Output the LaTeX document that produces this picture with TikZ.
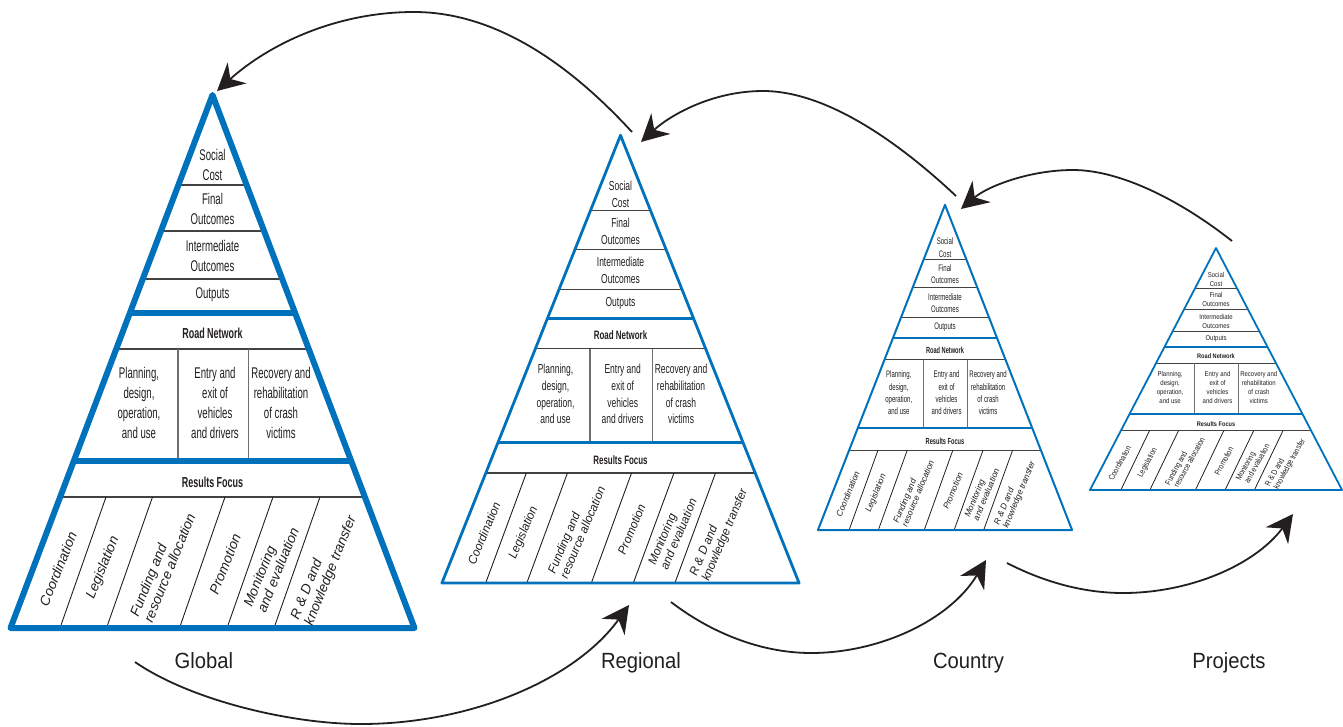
\documentclass[tikz,border=0pt]{standalone}
\usepackage{fontspec}
\setmainfont{Liberation Sans}
\newfontfamily\condfont[FakeStretch=0.62]{Liberation Sans}
\newfontfamily\labfont[FakeStretch=0.92]{Liberation Sans}
\usetikzlibrary{arrows.meta}
\definecolor{pblue}{RGB}{0,114,188}
\definecolor{ink}{RGB}{35,31,32}
\tikzset{
  boxtxt/.style={text=ink, align=center, inner sep=0pt, font=\condfont\fontsize{15.5}{20}\selectfont},
  headtxt/.style={text=ink, inner sep=0pt, font=\condfont\bfseries\fontsize{14.5}{18}\selectfont},
  slanttxt/.style={text=ink, align=left, inner sep=0pt, rotate=68, font=\itshape\fontsize{13.8}{15}\selectfont},
  thinline/.style={draw=ink!85, line width=1.1pt},
  divline/.style={draw=ink!65, line width=1.3pt},
  slantline/.style={draw=ink, line width=0.9pt},
  levellabel/.style={text=ink, font=\labfont\fontsize{22}{26}\selectfont, anchor=base, inner sep=0pt},
  flow/.style={draw=ink, line width=1.8pt, -{Stealth[length=27pt,width=28pt,inset=9pt]}},
  pyredge/.style={draw=pblue, line width=6pt, line join=round},
  pyrband/.style={draw=pblue, line width=6pt},
  pics/pyr/.style={code={
    \draw[thinline] (-34.1,-443) -- (34.1,-443);
    \draw[thinline] (-51.5,-397) -- (51.5,-397);
    \draw[thinline] (-69.7,-349) -- (69.7,-349);
    \draw[thinline] (-96.3,-279) -- (96.3,-279);
    \draw[thinline] (-152.4,-131) -- (152.4,-131);
    \draw[divline] (-34.5,-279) -- (-34.5,-167);
    \draw[divline] (36,-279) -- (36,-167);
    \foreach \b/\t in {-152.5/-106.5, -106/-60, -33/12.5, 14.5/60.5, 61.5/107.5}
      \draw[slantline] (\b,0) -- (\t,-131);
    \draw[pyrband] (-82.6,-315) -- (82.6,-315);
    \draw[pyrband] (-138.7,-167) -- (138.7,-167);
    \draw[pyredge] (-202,0) -- (0,-533) -- (202,0) -- cycle;
    \node[boxtxt] (social) at (0,-463) {Social\\Cost};
    \node[boxtxt] (final) at (0,-419) {Final\\Outcomes};
    \node[boxtxt] (inter) at (0,-372) {Intermediate\\Outcomes};
    \node[boxtxt] (outputs) at (0,-333) {Outputs};
    \node[headtxt] (road) at (0,-295) {Road Network};
    \node[boxtxt] (plan) at (-73.5,-225) {Planning,\\design,\\operation,\\and use};
    \node[boxtxt] (entry) at (2.5,-225) {Entry and\\exit of\\vehicles\\and drivers};
    \node[boxtxt] (recov) at (68.5,-225) {Recovery and\\rehabilitation\\of crash\\victims};
    \node[headtxt] (results) at (0,-146) {Results Focus};
    \node[slanttxt] (coord) at (-154.5,-59) {Coordination};
    \node[slanttxt] (legis) at (-109.5,-60) {Legislation};
    \node[slanttxt] (fund) at (-50,-63) {Funding and\\resource allocation};
    \node[slanttxt] (promo) at (12.5,-64) {Promotion};
    \node[slanttxt] (monit) at (58.5,-61) {Monitoring\\and evaluation};
    \node[slanttxt] (rnd) at (111.5,-60) {R \& D and\\knowledge transfer};
  }}
}
\begin{document}
\begin{tikzpicture}[x=1pt,y=-1pt]
\fill[white] (0,0) rectangle (1343,726);
\useasboundingbox (0,0) rectangle (1343,726);

\begin{scope}[shift={(212.5,628)}]
  \pic (G) at (0,0) {pyr};
\end{scope}
\begin{scope}[shift={(620.5,583)}, xscale=0.884, yscale=0.84, transform shape,
  pyredge/.style={draw=pblue, line width=2.8pt, line join=round},
  pyrband/.style={draw=pblue, line width=3.2pt}]
  \pic (R) at (0,0) {pyr};
\end{scope}
\begin{scope}[shift={(945,530)}, xscale=0.629, yscale=0.61, transform shape,
  pyredge/.style={draw=pblue, line width=2pt, line join=round},
  pyrband/.style={draw=pblue, line width=2.2pt},
  thinline/.style={draw=ink!85, line width=1pt},
  divline/.style={draw=ink!65, line width=1pt},
  slantline/.style={draw=ink, line width=0.8pt}]
  \pic (C) at (0,0) {pyr};
\end{scope}
\begin{scope}[shift={(1216,490)}, xscale=0.624, yscale=0.454, transform shape,
  pyredge/.style={draw=pblue, line width=1.8pt, line join=round},
  pyrband/.style={draw=pblue, line width=2pt},
  thinline/.style={draw=ink!85, line width=1pt},
  divline/.style={draw=ink!65, line width=1pt},
  slantline/.style={draw=ink, line width=0.8pt}]
  \pic (P) at (0,0) {pyr};
\end{scope}

% connector end points
\coordinate (a1s) at (632,132); \coordinate (a1m) at (414,12); \coordinate (a1e) at (217,91);
\coordinate (a2s) at (956,196); \coordinate (a2m) at (763,91); \coordinate (a2e) at (641,142);
\coordinate (a3s) at (1232,241); \coordinate (a3m) at (1073,170); \coordinate (a3e) at (961,209);
\coordinate (a4s) at (135,662); \coordinate (a4m) at (361,724); \coordinate (a4e) at (629,605);
\coordinate (a5s) at (671,602); \coordinate (a5m) at (811,653); \coordinate (a5e) at (986,560);
\coordinate (a6s) at (1007,563); \coordinate (a6m) at (1123,593); \coordinate (a6e) at (1293,514);

\draw[flow] (a1s) .. controls (575,70) and (500,12) .. (a1m) .. controls (335,12) and (268,45) .. (a1e);
\draw[flow] (a2s) .. controls (905,148) and (830,91) .. (a2m) .. controls (710,91) and (668,117) .. (a2e);
\draw[flow] (a3s) .. controls (1180,200) and (1120,170) .. (a3m) .. controls (1030,170) and (988,186) .. (a3e);
\draw[flow] (a4s) .. controls (190,700) and (290,724) .. (a4m) .. controls (470,724) and (575,680) .. (a4e);
\draw[flow] (a5s) .. controls (710,632) and (760,653) .. (a5m) .. controls (880,653) and (950,620) .. (a5e);
\draw[flow] (a6s) .. controls (1040,580) and (1080,593) .. (a6m) .. controls (1190,593) and (1255,565) .. (a6e);

\node[levellabel] (lg) at (204,668) {Global};
\node[levellabel] (lr) at (641,668) {Regional};
\node[levellabel] (lc) at (968.5,668) {Country};
\node[levellabel] (lp) at (1229,668) {Projects};
\end{tikzpicture}
\end{document}
